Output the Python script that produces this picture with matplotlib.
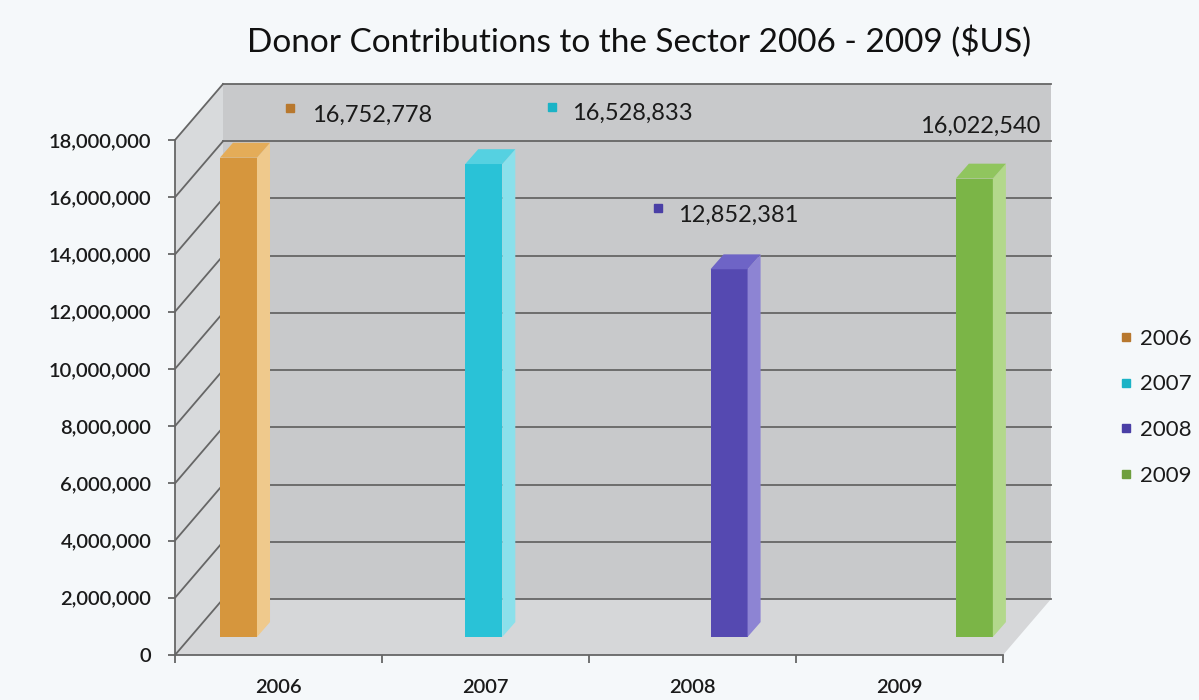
import numpy as np
from matplotlib import pyplot as plt
from matplotlib.patches import Polygon
from matplotlib.lines import Line2D
from matplotlib.ticker import FuncFormatter

plt.rcParams.update({"font.family": ["Lato", "DejaVu Sans"],
                     "text.color": "#1a1a1a"})

# data
years = ["2006", "2007", "2008", "2009"]
values = [16752778, 16528833, 12852381, 16022540]
label_text = ["16,752,778", "16,528,833", "12,852,381", "16,022,540"]

# colours per year: front, side, top
front_col = ["#d6963d", "#29c2d7", "#5549b1", "#7bb547"]
side_col = ["#efc98c", "#8be0eb", "#8d84d3", "#b3d88c"]
top_col = ["#e4ac58", "#55d1e1", "#6e64c6", "#90c55e"]
legend_col = ["#b8782e", "#1bb3c6", "#4a3fa6", "#6e9f3e"]

# layout (data units: x = category, y = dollars)
back_dx, back_dy = 0.232, 1.957e6      # depth of the back wall
bar_dx, bar_dy = 0.074, 0.63e6         # depth of the bar row
side_dx, side_dy = 0.063, 0.52e6       # bar thickness
bar_w = 0.179
bar_left = [0.217 + 1.185 * i for i in range(4)]
label_xy = [(0.952, 18.85e6), (2.208, 18.92e6), (2.72, 15.38e6), (3.889, 18.49e6)]
marker_xy = [(0.556, 19.12e6), (1.821, 19.15e6), (2.333, 15.62e6), None]

fig = plt.figure(figsize=(11.99, 7.0), dpi=100)
fig.patch.set_facecolor("#f5f8fa")
ax = fig.add_axes([175 / 1199, 45 / 700, 828 / 1199, 515 / 700])
ax.set_xlim(0, 4)
ax.set_ylim(0, 18e6)
ax.patch.set_visible(False)

yticks = np.arange(0, 18e6 + 1, 2e6)
grid = "#666666"

# back wall, side wall and floor
ax.add_patch(Polygon([(back_dx, back_dy), (4 + back_dx, back_dy),
                      (4 + back_dx, 18e6 + back_dy), (back_dx, 18e6 + back_dy)],
                     closed=True, fc="#c8c9cb", ec="none", zorder=0, clip_on=False))
ax.add_patch(Polygon([(0, 0), (back_dx, back_dy), (back_dx, 18e6 + back_dy), (0, 18e6)],
                     closed=True, fc="#d8dadc", ec="none", zorder=0, clip_on=False))
ax.add_patch(Polygon([(0, 0), (4, 0), (4 + back_dx, back_dy), (back_dx, back_dy)],
                     closed=True, fc="#d6d7d9", ec="none", zorder=0, clip_on=False))

for v in yticks:
    ax.plot([0, back_dx], [v, v + back_dy], color=grid, lw=1.3, zorder=1, clip_on=False)
    ax.plot([back_dx, 4 + back_dx], [v + back_dy, v + back_dy], color=grid, lw=1.3,
            zorder=1, clip_on=False)

# bars
for i, val in enumerate(values):
    x0 = bar_left[i]
    x1 = x0 + bar_w
    b = bar_dy
    t = bar_dy + val
    ax.add_patch(Polygon([(x0, b), (x1, b), (x1, t), (x0, t)], closed=True,
                         fc=front_col[i], ec="none", zorder=3, clip_on=False))
    ax.add_patch(Polygon([(x1, b), (x1 + side_dx, b + side_dy), (x1 + side_dx, t + side_dy),
                          (x1, t)], closed=True, fc=side_col[i], ec="none", zorder=3,
                         clip_on=False))
    ax.add_patch(Polygon([(x0, t), (x1, t), (x1 + side_dx, t + side_dy),
                          (x0 + side_dx, t + side_dy)], closed=True, fc=top_col[i],
                         ec="none", zorder=3, clip_on=False))

# value labels
for i in range(4):
    ax.text(label_xy[i][0], label_xy[i][1], label_text[i], fontsize=17,
            ha="center", va="center", color="#1a1a1a", zorder=5, clip_on=False)
    if marker_xy[i] is not None:
        ax.plot(marker_xy[i][0], marker_xy[i][1], marker="s", ms=5.5, ls="",
                color=legend_col[i], zorder=5, clip_on=False)

# axes
for s in ["top", "right"]:
    ax.spines[s].set_visible(False)
for s in ["left", "bottom"]:
    ax.spines[s].set_color(grid)
    ax.spines[s].set_linewidth(1.3)

ax.set_yticks(yticks)
ax.yaxis.set_major_formatter(FuncFormatter(lambda v, p: f"{int(v):,}"))
ax.tick_params(axis="y", length=5, width=1.3, color=grid, pad=12, labelsize=14.5,
               labelcolor="#1a1a1a")
ax.set_xticks(np.arange(0, 5))
ax.set_xticklabels([])
ax.set_xticks(np.arange(0.5, 4), minor=True)
ax.set_xticklabels(years, minor=True)
ax.tick_params(axis="x", which="major", length=6, width=1.3, color=grid)
ax.tick_params(axis="x", which="minor", length=0, pad=17, labelsize=14.5,
               labelcolor="#1a1a1a")
for lab in ax.get_yticklabels() + ax.get_xticklabels(minor=True):
    lab.set_fontweight("semibold")

fig.text(639 / 1199, 1 - 42 / 700, "Donor Contributions to the Sector 2006 - 2009 ($US)",
         fontsize=24, ha="center", va="center", color="#111111")

handles = [Line2D([], [], marker="s", ls="", color=c, ms=6) for c in legend_col]
fig.legend(handles, years, loc="upper left", bbox_to_anchor=(1112 / 1199, 1 - 320 / 700),
           frameon=False, fontsize=16, handlelength=0.5, handletextpad=0.35,
           labelspacing=1.15, borderaxespad=0)

fig.savefig("out.png", dpi=100, facecolor=fig.get_facecolor())
